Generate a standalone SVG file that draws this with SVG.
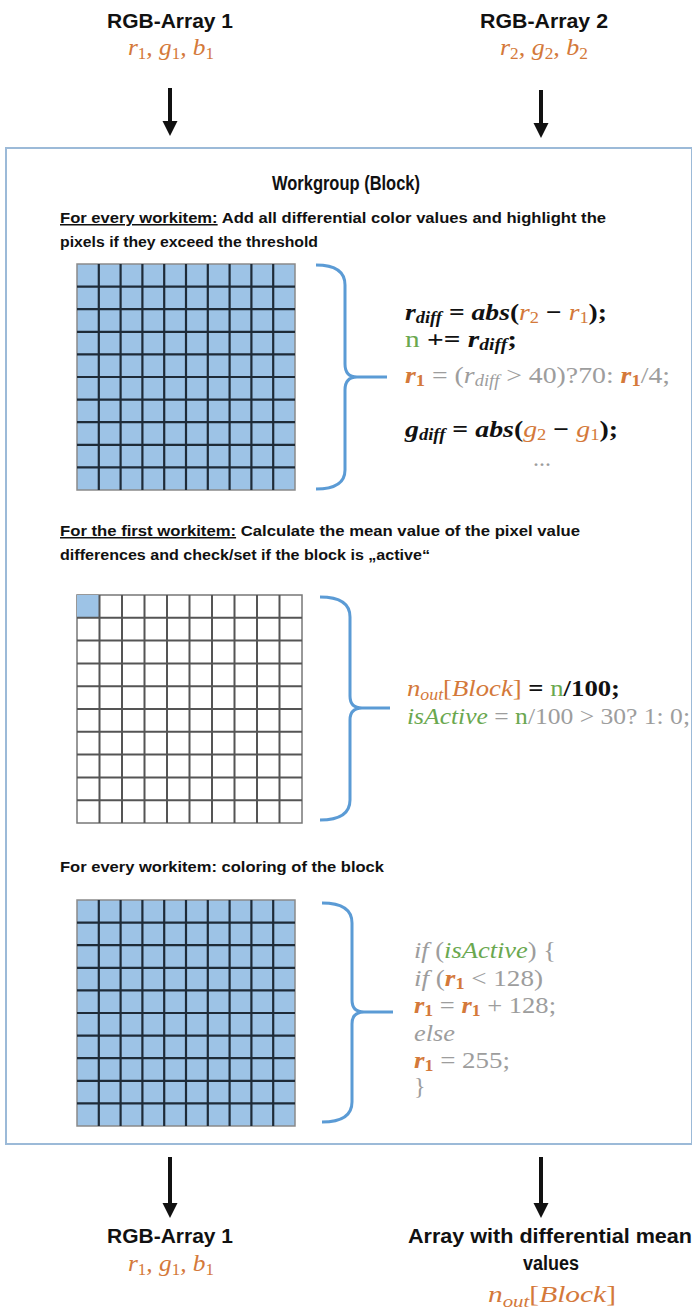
<svg xmlns="http://www.w3.org/2000/svg" width="692" height="1311" viewBox="0 0 692 1311">
<defs>
<marker id="ah" markerUnits="userSpaceOnUse" markerWidth="16" markerHeight="16" refX="0" refY="7.5" orient="auto">
<path d="M0,0 L15,7.5 L0,15 Z" fill="#111"/>
</marker>
<style>
.lbl{font-family:"Liberation Sans",Arial,sans-serif;font-weight:bold;font-size:20px;fill:#111;text-anchor:middle}
.body{font-family:"Liberation Sans",Arial,sans-serif;font-weight:bold;font-size:15px;fill:#111}
.m{font-family:"Liberation Serif","Times New Roman",serif;font-style:italic;font-size:24px}
.s{font-size:16px;font-style:normal}
.o{fill:#d4793a}
.g{fill:#6aa84f}
.gr{fill:#9d9d9d}
.k{fill:#111;font-weight:bold}
.n{font-style:normal}
.u{text-decoration:underline}
.conn{stroke:#111;stroke-width:4;fill:none}
.brace{stroke:#5b9bd5;stroke-width:3;fill:none}
.gridb{fill:#9dc3e6;stroke:#8a8a8a;stroke-width:1.5}
.gridw{fill:#fff;stroke:#777;stroke-width:1.5}
.gl{stroke:#1e2b38;stroke-width:2.2;fill:none}
.gl2{stroke:#555;stroke-width:2;fill:none}
</style>
</defs>
<rect width="692" height="1311" fill="#fff"/>

<g id="input1">
<text class="lbl" x="170" y="28" textLength="126" lengthAdjust="spacingAndGlyphs">RGB-Array 1</text>
<text class="m o" x="128" y="55" textLength="86" lengthAdjust="spacingAndGlyphs">r<tspan class="s" dy="4">1</tspan><tspan dy="-4">, g</tspan><tspan class="s" dy="4">1</tspan><tspan dy="-4">, b</tspan><tspan class="s" dy="4">1</tspan></text>
</g>
<g id="input2">
<text class="lbl" x="544" y="28" textLength="128" lengthAdjust="spacingAndGlyphs">RGB-Array 2</text>
<text class="m o" x="500" y="55" textLength="88" lengthAdjust="spacingAndGlyphs">r<tspan class="s" dy="4">2</tspan><tspan dy="-4">, g</tspan><tspan class="s" dy="4">2</tspan><tspan dy="-4">, b</tspan><tspan class="s" dy="4">2</tspan></text>
</g>

<g id="workgroup">
<rect x="6" y="148" width="686" height="996" fill="#fff" stroke="#9cbad8" stroke-width="2"/>
<text class="lbl" x="346" y="190" font-size="20" textLength="148" lengthAdjust="spacingAndGlyphs">Workgroup (Block)</text>
</g>

<g id="step1">
<text class="body" x="60" y="223" textLength="546" lengthAdjust="spacingAndGlyphs"><tspan class="u">For every workitem:</tspan> Add all differential color values and highlight the</text>
<text class="body" x="60" y="247" textLength="258" lengthAdjust="spacingAndGlyphs">pixels if they exceed the threshold</text>
<rect class="gridb" x="77" y="264" width="218" height="226"/>
<path class="gl" d="M98.8,264V490M120.6,264V490M142.4,264V490M164.2,264V490M186,264V490M207.8,264V490M229.6,264V490M251.4,264V490M273.2,264V490M77,286.6H295M77,309.2H295M77,331.8H295M77,354.4H295M77,377H295M77,399.6H295M77,422.2H295M77,444.8H295M77,467.4H295"/>
<path class="brace" d="M316,265 Q345,265 345,285 V364 Q345,377 357,377 Q345,377 345,390 V470 Q345,489 316,489 M357,377 H387"/>
<text class="m" x="405" y="320" textLength="202" lengthAdjust="spacingAndGlyphs"><tspan class="k">r</tspan><tspan class="k" font-size="16" dy="3">diff</tspan><tspan class="k n" dy="-3"> = </tspan><tspan class="k">abs</tspan><tspan class="k n">(</tspan><tspan class="o">r</tspan><tspan class="o s" dy="3">2</tspan><tspan class="k n" dy="-3"> − </tspan><tspan class="o">r</tspan><tspan class="o s" dy="3">1</tspan><tspan class="k n" dy="-3">);</tspan></text>
<text class="m" x="405" y="347" textLength="112" lengthAdjust="spacingAndGlyphs"><tspan class="g n">n</tspan><tspan class="k n"> += </tspan><tspan class="k">r</tspan><tspan class="k" font-size="16" dy="3">diff</tspan><tspan class="k n" dy="-3">;</tspan></text>
<text class="m gr" x="405" y="383" textLength="265" lengthAdjust="spacingAndGlyphs"><tspan class="o" font-weight="bold">r</tspan><tspan class="o s" font-weight="bold" dy="3">1</tspan><tspan class="n" dy="-3"> = (</tspan><tspan>r</tspan><tspan font-size="16" dy="3">diff</tspan><tspan class="n" dy="-3"> &gt; 40)?70: </tspan><tspan class="o" font-weight="bold">r</tspan><tspan class="o s" font-weight="bold" dy="3">1</tspan><tspan class="n" dy="-3">/4;</tspan></text>
<text class="m" x="405" y="437" textLength="213" lengthAdjust="spacingAndGlyphs"><tspan class="k">g</tspan><tspan class="k" font-size="16" dy="3">diff</tspan><tspan class="k n" dy="-3"> = </tspan><tspan class="k">abs</tspan><tspan class="k n">(</tspan><tspan class="o">g</tspan><tspan class="o s" dy="3">2</tspan><tspan class="k n" dy="-3"> − </tspan><tspan class="o">g</tspan><tspan class="o s" dy="3">1</tspan><tspan class="k n" dy="-3">);</tspan></text>
<text class="m gr n" x="542" y="466" font-size="13" text-anchor="middle">...</text>
</g>

<g id="step2">
<text class="body" x="60" y="536" textLength="520" lengthAdjust="spacingAndGlyphs"><tspan class="u">For the first workitem:</tspan> Calculate the mean value of the pixel value</text>
<text class="body" x="60" y="560" textLength="370" lengthAdjust="spacingAndGlyphs">differences and check/set if the block is „active“</text>
<rect class="gridw" x="77" y="595" width="225" height="228"/>
<rect x="77" y="595" width="22.5" height="22.8" fill="#9dc3e6"/>
<path class="gl2" d="M99.5,595V823M122,595V823M144.5,595V823M167,595V823M189.5,595V823M212,595V823M234.5,595V823M257,595V823M279.5,595V823M77,617.8H302M77,640.6H302M77,663.4H302M77,686.2H302M77,709H302M77,731.8H302M77,754.6H302M77,777.4H302M77,800.2H302"/>
<path class="brace" d="M320,597 Q350,597 350,617 V696 Q350,708 362,708 Q350,708 350,720 V800 Q350,820 320,820 M362,708 H390"/>
<text class="m" x="407" y="696" textLength="213" lengthAdjust="spacingAndGlyphs"><tspan class="o">n</tspan><tspan class="o" font-size="16" dy="4">out</tspan><tspan class="o n" dy="-4">[</tspan><tspan class="o">Block</tspan><tspan class="o n">]</tspan><tspan class="k n"> = </tspan><tspan class="g n">n</tspan><tspan class="k n">/100;</tspan></text>
<text class="m gr" x="407" y="724" textLength="283" lengthAdjust="spacingAndGlyphs"><tspan class="g">isActive</tspan><tspan class="n"> = </tspan><tspan class="g n">n</tspan><tspan class="n">/100 &gt; 30? 1: 0;</tspan></text>
</g>

<g id="step3">
<text class="body" x="60" y="872" textLength="324" lengthAdjust="spacingAndGlyphs">For every workitem: coloring of the block</text>
<rect class="gridb" x="77" y="900" width="218" height="226"/>
<path class="gl" d="M98.8,900V1126M120.6,900V1126M142.4,900V1126M164.2,900V1126M186,900V1126M207.8,900V1126M229.6,900V1126M251.4,900V1126M273.2,900V1126M77,922.6H295M77,945.2H295M77,967.8H295M77,990.4H295M77,1013H295M77,1035.6H295M77,1058.2H295M77,1080.8H295M77,1103.4H295"/>
<path class="brace" d="M322,903 Q352,903 352,923 V1000 Q352,1012 364,1012 Q352,1012 352,1024 V1102 Q352,1122 322,1122 M364,1012 H393"/>
<g class="m gr">
<text x="414" y="958" textLength="142" lengthAdjust="spacingAndGlyphs">if <tspan class="n">(</tspan><tspan class="g">isActive</tspan><tspan class="n">) {</tspan></text>
<text x="414" y="986" textLength="129" lengthAdjust="spacingAndGlyphs">if <tspan class="n">(</tspan><tspan class="o" font-weight="bold">r</tspan><tspan class="o s" font-weight="bold" dy="3">1</tspan><tspan class="n" dy="-3"> &lt; 128)</tspan></text>
<text x="414" y="1013" textLength="142" lengthAdjust="spacingAndGlyphs"><tspan class="o" font-weight="bold">r</tspan><tspan class="o s" font-weight="bold" dy="3">1</tspan><tspan class="n" dy="-3"> = </tspan><tspan class="o" font-weight="bold">r</tspan><tspan class="o s" font-weight="bold" dy="3">1</tspan><tspan class="n" dy="-3"> +  128;</tspan></text>
<text x="414" y="1041" textLength="41" lengthAdjust="spacingAndGlyphs">else</text>
<text x="414" y="1068" textLength="96" lengthAdjust="spacingAndGlyphs"><tspan class="o" font-weight="bold">r</tspan><tspan class="o s" font-weight="bold" dy="3">1</tspan><tspan class="n" dy="-3"> =  255;</tspan></text>
<text class="n" x="414" y="1094">}</text>
</g>
</g>

<g id="output1">
<text class="lbl" x="170" y="1243" textLength="126" lengthAdjust="spacingAndGlyphs">RGB-Array 1</text>
<text class="m o" x="128" y="1271" textLength="86" lengthAdjust="spacingAndGlyphs">r<tspan class="s" dy="4">1</tspan><tspan dy="-4">, g</tspan><tspan class="s" dy="4">1</tspan><tspan dy="-4">, b</tspan><tspan class="s" dy="4">1</tspan></text>
</g>
<g id="output2">
<text class="lbl" x="550" y="1243" textLength="284" lengthAdjust="spacingAndGlyphs">Array with differential mean</text>
<text class="lbl" x="551" y="1270" textLength="56" lengthAdjust="spacingAndGlyphs">values</text>
<text class="m o" x="488" y="1302" textLength="128" lengthAdjust="spacingAndGlyphs">n<tspan font-size="17" dy="5">out</tspan><tspan class="n" dy="-5">[</tspan>Block<tspan class="n">]</tspan></text>
</g>

<g id="connectors">
<line class="conn" x1="170" y1="88" x2="170" y2="121" marker-end="url(#ah)"/>
<line class="conn" x1="541" y1="90" x2="541" y2="123" marker-end="url(#ah)"/>
<line class="conn" x1="170" y1="1157" x2="170" y2="1203" marker-end="url(#ah)"/>
<line class="conn" x1="541" y1="1157" x2="541" y2="1203" marker-end="url(#ah)"/>
</g>
</svg>
